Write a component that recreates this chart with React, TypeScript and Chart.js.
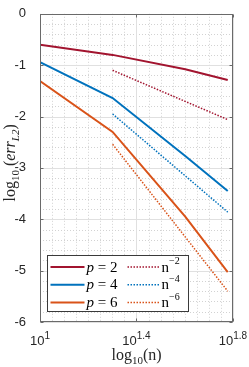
import React, { useEffect, useRef } from "react";
import { Chart, registerables } from "chart.js";
Chart.register(...registerables);

// ---- data ----
const nValues = [10, 20, 40, 60];
const log10ErrP2 = [-0.6, -0.8, -1.08, -1.29];
const log10ErrP4 = [-0.94, -1.64, -2.77, -3.45];
const log10ErrP6 = [-1.31, -2.3, -3.95, -5.03];
const refNValues = [20, 60];
const refOrder2 = [-1.1, -2.06];
const refOrder4 = [-1.95, -3.86];
const refOrder6 = [-2.54, -5.4];
const xTickValues = [1, 1.4, 1.8];
const xTickExponents = ["1", "1.4", "1.8"];
const yTickValues = [0, -1, -2, -3, -4, -5, -6];
const solidLabels = ["2", "4", "6"];
const refLabels = ["\u22122", "\u22124", "\u22126"];

const RED = "#A2142F";
const BLUE = "#0072BD";
const ORANGE = "#D95319";
const seriesColors = [RED, BLUE, ORANGE];

const SERIF = '"Liberation Serif", "Times New Roman", serif';
const SANS = '"Liberation Sans", Arial, Helvetica, sans-serif';

type Seg = { t: string; font: string; dy?: number };

function drawSegs(ctx: CanvasRenderingContext2D, segs: Seg[], x: number, y: number, align: "center" | "left") {
  let total = 0;
  for (const s of segs) {
    ctx.font = s.font;
    total += ctx.measureText(s.t).width;
  }
  let cx = align === "center" ? x - total / 2 : x;
  ctx.textAlign = "left";
  ctx.textBaseline = "alphabetic";
  for (const s of segs) {
    ctx.font = s.font;
    ctx.fillText(s.t, cx, y + (s.dy || 0));
    cx += ctx.measureText(s.t).width;
  }
}

const gridPlugin = {
  id: "matlabGrid",
  beforeDatasetsDraw(chart: any) {
    const { ctx, chartArea, scales } = chart;
    const { left, right, top, bottom } = chartArea;
    const x = scales.x;
    const y = scales.y;
    ctx.save();
    ctx.lineWidth = 1;
    // minor grid (dotted)
    ctx.strokeStyle = "#d2d2d2";
    ctx.setLineDash([1, 2]);
    for (let i = 1; i < 16; i++) {
      if (i % 8 === 0) continue;
      const px = Math.round(x.getPixelForValue(1 + i * 0.05)) + 0.5;
      ctx.beginPath();
      ctx.moveTo(px, top);
      ctx.lineTo(px, bottom);
      ctx.stroke();
    }
    for (let i = 1; i < 30; i++) {
      if (i % 5 === 0) continue;
      const py = Math.round(y.getPixelForValue(-i * 0.2)) + 0.5;
      ctx.beginPath();
      ctx.moveTo(left, py);
      ctx.lineTo(right, py);
      ctx.stroke();
    }
    // major grid
    ctx.setLineDash([]);
    ctx.strokeStyle = "#e0e0e0";
    for (const v of xTickValues) {
      const px = Math.round(x.getPixelForValue(v)) + 0.5;
      ctx.beginPath();
      ctx.moveTo(px, top);
      ctx.lineTo(px, bottom);
      ctx.stroke();
    }
    for (const v of yTickValues) {
      const py = Math.round(y.getPixelForValue(v)) + 0.5;
      ctx.beginPath();
      ctx.moveTo(left, py);
      ctx.lineTo(right, py);
      ctx.stroke();
    }
    ctx.restore();
  },
  afterDatasetsDraw(chart: any) {
    const { ctx, chartArea, scales } = chart;
    const { left, right, top, bottom } = chartArea;
    const x = scales.x;
    const y = scales.y;
    ctx.save();
    // axes box
    ctx.strokeStyle = "#6a6a6a";
    ctx.lineWidth = 1;
    ctx.setLineDash([]);
    const L = Math.round(left) + 0.5;
    const R = Math.round(right) - 0.5;
    const T = Math.round(top) + 0.5;
    const B = Math.round(bottom) - 0.5;
    ctx.strokeRect(L, T, R - L, B - T);
    // inward ticks
    const tl = 3;
    ctx.beginPath();
    for (const v of xTickValues) {
      const px = Math.round(x.getPixelForValue(v)) + 0.5;
      ctx.moveTo(px, B);
      ctx.lineTo(px, B - tl);
      ctx.moveTo(px, T);
      ctx.lineTo(px, T + tl);
    }
    for (const v of yTickValues) {
      const py = Math.round(y.getPixelForValue(v)) + 0.5;
      ctx.moveTo(L, py);
      ctx.lineTo(L + tl, py);
      ctx.moveTo(R, py);
      ctx.lineTo(R - tl, py);
    }
    ctx.stroke();

    // x tick labels 10^k
    ctx.fillStyle = "#262626";
    xTickValues.forEach((v, i) => {
      const px = x.getPixelForValue(v);
      drawSegs(
        ctx,
        [
          { t: "10", font: `13px ${SANS}` },
          { t: xTickExponents[i], font: `10px ${SANS}`, dy: -6 },
        ],
        px,
        bottom + 23,
        "center"
      );
    });

    // x title
    drawSegs(
      ctx,
      [
        { t: "log", font: `16px ${SERIF}` },
        { t: "10", font: `11px ${SERIF}`, dy: 4 },
        { t: "(n)", font: `16px ${SERIF}` },
      ],
      (left + right) / 2,
      bottom + 38,
      "center"
    );

    // y title
    ctx.save();
    ctx.translate(15, (top + bottom) / 2 - 5);
    ctx.rotate(-Math.PI / 2);
    drawSegs(
      ctx,
      [
        { t: "log", font: `16px ${SERIF}` },
        { t: "10", font: `11px ${SERIF}`, dy: 4 },
        { t: " (", font: `16px ${SERIF}` },
        { t: "err", font: `italic 16px ${SERIF}` },
        { t: "L2", font: `italic 11px ${SERIF}`, dy: 4 },
        { t: ")", font: `16px ${SERIF}` },
      ],
      0,
      0,
      "center"
    );
    ctx.restore();

    // legend
    const bx = Math.round(left) + 7.5;
    const by = Math.round(bottom) - 66.5;
    const bw = 141;
    const bh = 56;
    ctx.fillStyle = "#ffffff";
    ctx.fillRect(bx, by, bw, bh);
    ctx.strokeStyle = "#3a3a3a";
    ctx.strokeRect(bx, by, bw, bh);
    for (let r = 0; r < 3; r++) {
      const ly = by + 11.5 + r * 17.8;
      const c = seriesColors[r];
      ctx.lineWidth = 2;
      ctx.strokeStyle = c;
      ctx.setLineDash([]);
      ctx.beginPath();
      ctx.moveTo(bx + 3, ly);
      ctx.lineTo(bx + 37, ly);
      ctx.stroke();
      ctx.lineWidth = 1.5;
      ctx.setLineDash([1.5, 1.5]);
      ctx.beginPath();
      ctx.moveTo(bx + 80, ly);
      ctx.lineTo(bx + 112, ly);
      ctx.stroke();
      ctx.setLineDash([]);
      ctx.fillStyle = "#000000";
      drawSegs(
        ctx,
        [
          { t: "p", font: `italic 15px ${SERIF}` },
          { t: " = " + solidLabels[r], font: `15px ${SERIF}` },
        ],
        bx + 39,
        ly + 4.5,
        "left"
      );
      drawSegs(
        ctx,
        [
          { t: "n", font: `15px ${SERIF}` },
          { t: refLabels[r], font: `10px ${SERIF}`, dy: -7.5 },
        ],
        bx + 114,
        ly + 4.5,
        "left"
      );
    }
    ctx.restore();
  },
};

function toPoints(ns: number[], vals: number[]) {
  return ns.map((n, i) => ({ x: Math.log10(n), y: vals[i] }));
}

export default function App() {
  const ref = useRef<HTMLCanvasElement | null>(null);
  useEffect(() => {
    if (!ref.current) return;
    const solid = (data: number[], color: string) => ({
      data: toPoints(nValues, data),
      borderColor: color,
      backgroundColor: color,
      borderWidth: 2,
      pointRadius: 0,
      tension: 0,
      fill: false,
    });
    const dotted = (data: number[], color: string) => ({
      data: toPoints(refNValues, data),
      borderColor: color,
      backgroundColor: color,
      borderWidth: 1.5,
      borderDash: [1.5, 1.5],
      pointRadius: 0,
      tension: 0,
      fill: false,
    });
    const chart = new Chart(ref.current, {
      type: "line",
      data: {
        datasets: [
          solid(log10ErrP2, RED),
          solid(log10ErrP4, BLUE),
          solid(log10ErrP6, ORANGE),
          dotted(refOrder2, RED),
          dotted(refOrder4, BLUE),
          dotted(refOrder6, ORANGE),
        ] as any,
      },
      options: {
        animation: false,
        responsive: true,
        maintainAspectRatio: false,
        layout: { padding: { left: 0, right: 16, top: 5, bottom: 45 } },
        plugins: { legend: { display: false }, tooltip: { enabled: false } },
        events: [],
        scales: {
          x: {
            type: "linear",
            min: 1,
            max: 1.8,
            grid: { display: false },
            border: { display: false },
            ticks: { display: false },
            afterFit: (s: any) => {
              s.height = 0;
            },
          },
          y: {
            type: "linear",
            min: -6,
            max: 0,
            grid: { display: false },
            border: { display: false },
            ticks: {
              stepSize: 1,
              padding: 6,
              color: "#262626",
              font: { family: SANS, size: 13 },
              callback: (v: any) => String(v),
            },
            afterFit: (s: any) => {
              s.width = 40;
            },
          },
        },
      },
      plugins: [gridPlugin],
    });
    return () => chart.destroy();
  }, []);
  return (
    <div style={{ position: "absolute", left: 0, top: 0, width: 249, height: 367, background: "#fff" }}>
      <canvas ref={ref} />
    </div>
  );
}
